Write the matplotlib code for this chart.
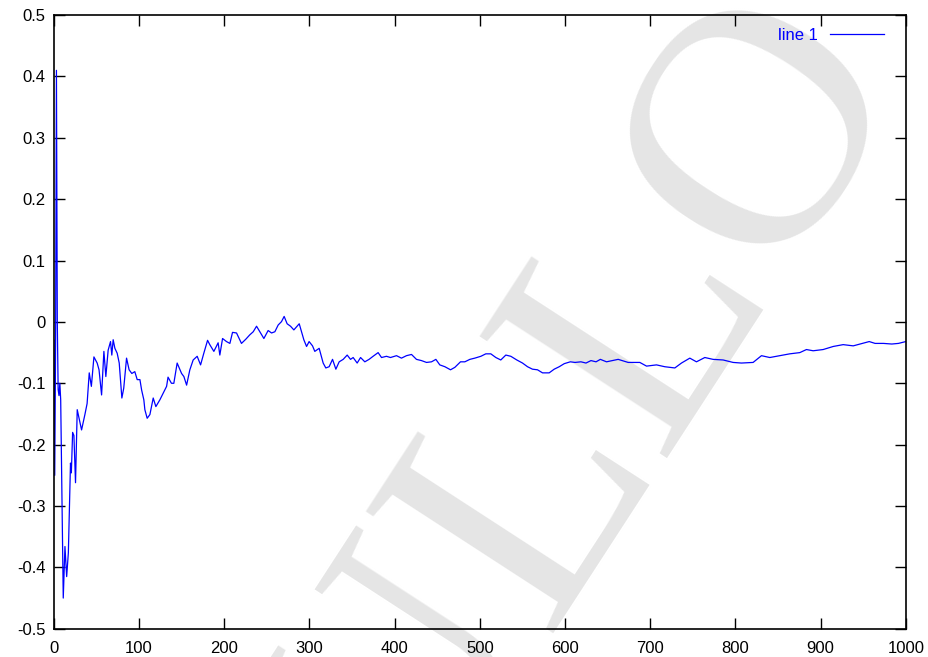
import matplotlib
matplotlib.use("Agg")
import matplotlib.pyplot as plt

# values
x = [0, 1, 2, 3, 4, 5, 6, 7, 8, 11, 13, 15, 17, 19.5, 20.5, 22, 23.5, 25.4,
     27.4, 30, 32.5, 36.4, 39, 41.5, 44, 47, 50.8, 53, 56, 58.7, 61, 63.7,
     66.5, 68, 69.6, 71.6, 74.3, 76.7, 79.8, 82, 85.3, 88.3, 91.5, 95, 97.8,
     101, 103, 105.6, 106.8, 109.5, 112.7, 116.6, 119.7, 124.4, 128.3, 132.3,
     134, 138, 140.8, 144.7, 149.9, 152.6, 155.8, 159.6, 163.5, 168.2, 172.2,
     176, 180.4, 183, 187.8, 192.8, 194.8, 198, 202.6, 206.6, 209.7, 214.4,
     220.2, 225.4, 230, 234, 237.9, 241.8, 246.5, 251.5, 255.5, 259.4, 263.3,
     267.2, 270.3, 273.8, 277.8, 281.7, 284.9, 288, 290.7, 293.4, 296.6,
     299.6, 303.6, 306.3, 311.4, 316.1, 319.2, 323.1, 327.1, 331, 334.9,
     339.6, 344.3, 348.2, 351.3, 356, 360, 365, 370, 374.7, 380.6, 384.6,
     390.4, 395.1, 402.2, 408, 413.9, 419.8, 425.6, 431.5, 437.4, 443.3,
     448.4, 453, 459, 465.6, 470.7, 477.3, 482.4, 488.3, 494.1, 501.2, 507,
     512.9, 518.8, 524.6, 530.5, 536.4, 543.4, 550.1, 556, 561.8, 567.7,
     573.6, 581.4, 587.3, 593.2, 599.1, 606.2, 611.7, 618.7, 624.6, 630.5,
     636.4, 641.5, 648.7, 662.4, 674.1, 687.8, 695.7, 707.4, 717.1, 728.9,
     736.7, 746.5, 754.3, 764.1, 773.8, 785.6, 797.3, 807.1, 820.8, 830.6,
     840.4, 852.1, 863.8, 875.6, 883.4, 891.3, 903, 914.8, 926.5, 938.3,
     946.2, 957.1, 964, 973.8, 983.6, 991.4, 1000]
y = [-0.03, -0.25, -0.04, 0.41, 0.0, -0.11, -0.12, -0.10, -0.127, -0.45,
     -0.366, -0.415, -0.376, -0.23, -0.246, -0.18, -0.185, -0.262, -0.143,
     -0.16, -0.176, -0.151, -0.133, -0.083, -0.105, -0.057, -0.067, -0.078,
     -0.119, -0.048, -0.089, -0.046, -0.032, -0.054, -0.029, -0.043, -0.051,
     -0.067, -0.124, -0.108, -0.059, -0.078, -0.084, -0.081, -0.094, -0.094,
     -0.111, -0.127, -0.143, -0.157, -0.151, -0.124, -0.138, -0.127, -0.116,
     -0.105, -0.09, -0.1, -0.1, -0.067, -0.084, -0.089, -0.103, -0.078,
     -0.062, -0.056, -0.07, -0.051, -0.03, -0.037, -0.048, -0.034, -0.054,
     -0.027, -0.032, -0.035, -0.017, -0.018, -0.035, -0.028, -0.021, -0.016,
     -0.007, -0.016, -0.027, -0.014, -0.018, -0.016, -0.005, 0.0005, 0.009,
     -0.003, -0.007, -0.013, -0.008, -0.003, -0.016, -0.029, -0.04, -0.032,
     -0.039, -0.048, -0.043, -0.067, -0.075, -0.073, -0.061, -0.077, -0.065,
     -0.061, -0.054, -0.061, -0.058, -0.067, -0.058, -0.065, -0.061, -0.056,
     -0.05, -0.058, -0.056, -0.058, -0.055, -0.059, -0.055, -0.053, -0.061,
     -0.063, -0.066, -0.065, -0.061, -0.07, -0.073, -0.078, -0.074, -0.065,
     -0.065, -0.061, -0.059, -0.056, -0.052, -0.052, -0.058, -0.062, -0.054,
     -0.056, -0.062, -0.067, -0.073, -0.077, -0.078, -0.083, -0.083, -0.077,
     -0.073, -0.068, -0.065, -0.066, -0.065, -0.067, -0.063, -0.065, -0.061,
     -0.065, -0.061, -0.066, -0.066, -0.072, -0.07, -0.073, -0.075, -0.067,
     -0.059, -0.065, -0.058, -0.061, -0.062, -0.066, -0.067, -0.066, -0.055,
     -0.058, -0.055, -0.052, -0.05, -0.045, -0.047, -0.045, -0.04, -0.037,
     -0.039, -0.036, -0.032, -0.035, -0.035, -0.036, -0.035, -0.032]

xticks = [0, 100, 200, 300, 400, 500, 600, 700, 800, 900, 1000]
yticks = [-0.5, -0.4, -0.3, -0.2, -0.1, 0, 0.1, 0.2, 0.3, 0.4, 0.5]
ytick_labels = ["-0.5", "-0.4", "-0.3", "-0.2", "-0.1", "0", "0.1", "0.2", "0.3", "0.4", "0.5"]

plt.rcParams['font.family'] = ['Liberation Sans', 'DejaVu Sans']

fig = plt.figure(figsize=(9.29, 6.57), dpi=100)
ax = fig.add_axes([0.058, 0.043, 0.917, 0.934])
ax.set_facecolor('none')

# watermark behind the plot
fig.text(0.975, 0.885, "NULLO", rotation=57, rotation_mode='anchor',
         ha='right', va='baseline', fontsize=246, family='Liberation Serif',
         color='#e5e5e5', zorder=-1)

ax.plot(x, y, color='blue', linewidth=0.9, label='line 1')

ax.set_xlim(0, 1000)
ax.set_ylim(-0.5, 0.5)
ax.set_xticks(xticks)
ax.set_yticks(yticks)
ax.set_yticklabels(ytick_labels)
ax.tick_params(direction='in', length=8, width=1, top=True, right=True,
               labelsize=12)
ax.tick_params(axis='x', pad=9)
ax.tick_params(axis='y', pad=6)
for s in ax.spines.values():
    s.set_linewidth(1.2)

leg = ax.legend(loc='upper right', bbox_to_anchor=(1.0, 1.015),
                frameon=False, markerfirst=False,
                handlelength=3.25, handletextpad=0.7, fontsize=12,
                labelcolor='blue', borderaxespad=0.9)

fig.savefig('out.png', dpi=100)
